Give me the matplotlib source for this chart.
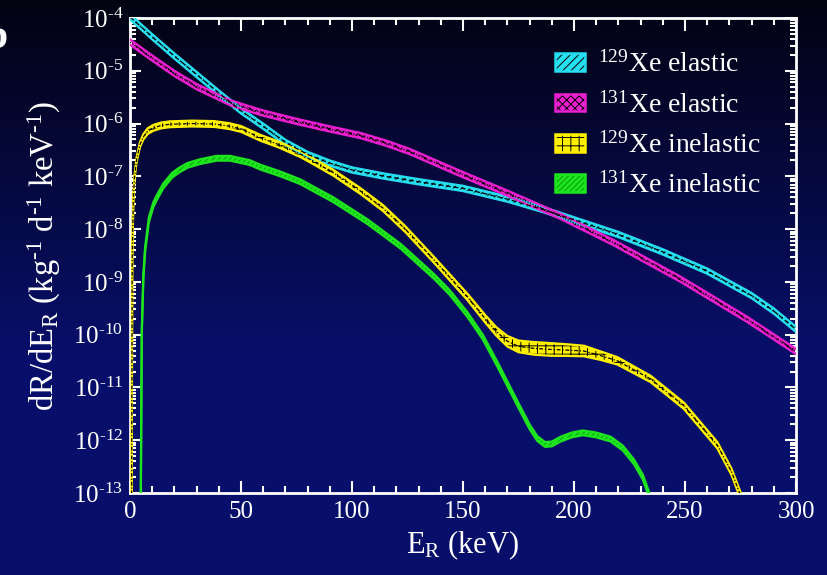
import numpy as np
import matplotlib
matplotlib.use("Agg")
import matplotlib.pyplot as plt
from matplotlib.patches import Patch
from matplotlib.legend_handler import HandlerTuple
from matplotlib.ticker import LogLocator, FuncFormatter, MultipleLocator

plt.rcParams["font.family"] = ["Liberation Serif", "DejaVu Serif"]
plt.rcParams["mathtext.fontset"] = "custom"
plt.rcParams["mathtext.rm"] = "Liberation Serif"
plt.rcParams["mathtext.it"] = "Liberation Serif:italic"
plt.rcParams["hatch.linewidth"] = 0.7

# --- data (E in keV, rate in kg^-1 d^-1 keV^-1) ---
e_129el = [0, 10, 20, 30, 40, 50, 60, 70, 80, 90, 100, 115, 130, 150, 170,
           186, 200, 220, 240, 260, 280, 290, 300]
r_129el = [1.05e-4, 4.4e-5, 1.9e-5, 8.5e-6, 3.8e-6, 1.74e-6, 8.9e-7, 4.4e-7,
           2.6e-7, 1.78e-7, 1.32e-7, 1.0e-7, 7.9e-8, 5.9e-8, 3.7e-8,
           2.35e-8, 1.5e-8, 7.9e-9, 3.7e-9, 1.6e-9, 5.5e-10, 2.8e-10, 1.26e-10]

e_131el = [0, 10, 20, 30, 45, 52, 60, 75, 90, 104, 115, 126, 149, 170, 194,
           218, 248, 278, 300]
r_131el = [3.5e-5, 1.74e-5, 8.9e-6, 5.0e-6, 2.5e-6, 2.0e-6, 1.58e-6, 1.1e-6,
           7.9e-7, 5.9e-7, 4.3e-7, 2.95e-7, 1.12e-7, 4.8e-8, 1.74e-8,
           5.5e-9, 1.12e-9, 1.95e-10, 4.8e-11]

e_129in = [0.7, 1.0, 1.5, 2.0, 3, 4.5, 6, 8, 10.5, 14, 18, 28, 38, 45, 50,
           58.6, 67, 77, 81, 91.6, 104, 114, 124, 137, 152, 160, 165, 170,
           175, 182, 189.4, 197, 204.5, 212, 219.5, 234.5, 249.5, 264.6, 271,
           276]
r_129in = [3e-14, 3e-9, 3.6e-8, 9.5e-8, 2.1e-7, 4.0e-7, 5.6e-7, 7.2e-7,
           8.3e-7, 9.2e-7, 9.7e-7, 1.0e-6, 9.8e-7, 8.9e-7, 7.9e-7,
           5.4e-7, 4.0e-7, 2.6e-7, 2.1e-7, 1.17e-7, 5.2e-8, 2.5e-8, 1.0e-8,
           2.6e-9, 5.2e-10, 2.0e-10, 1.15e-10, 7.5e-11, 6.0e-11, 5.5e-11,
           5.25e-11, 5.1e-11, 4.9e-11, 4.0e-11, 3.2e-11, 1.45e-11, 4.5e-12,
           8e-13, 2.5e-13, 7e-14]
# half width of the yellow band, in decades
w_129in = [0.0, 0.0, 0.02, 0.03, 0.04, 0.045, 0.05, 0.055, 0.055, 0.055,
           0.055, 0.055, 0.055, 0.055, 0.055, 0.055, 0.055, 0.055, 0.055,
           0.055, 0.055, 0.055, 0.055, 0.055, 0.06, 0.07, 0.08, 0.1, 0.11,
           0.12, 0.12, 0.11, 0.1, 0.08, 0.07, 0.06, 0.06, 0.06, 0.06, 0.06]

e_131in = [4.8, 5.3, 6.0, 6.8, 8.5, 10.5, 12, 15, 19, 22, 26, 31.6, 39, 45,
           54, 58.6, 68, 76.7, 91.6, 107, 122, 137, 144, 152, 159, 166, 174.5,
           180, 183.5, 187, 190, 194, 199, 204, 210, 216.5, 222, 227, 231,
           235.5]
r_131in = [3e-14, 1.1e-10, 1.2e-9, 4.1e-9, 1.5e-8, 2.9e-8, 3.9e-8, 6.6e-8,
           1.05e-7, 1.3e-7, 1.62e-7, 1.9e-7, 2.2e-7, 2.2e-7, 1.82e-7, 1.5e-7,
           1.1e-7, 7.9e-8, 3.6e-8, 1.38e-8, 4.7e-9, 1.26e-9, 6.3e-10,
           2.4e-10, 8.9e-11, 2.5e-11, 5.0e-12, 1.8e-12, 1.07e-12, 8.3e-13,
           8.5e-13, 1.05e-12, 1.26e-12, 1.38e-12, 1.26e-12, 1.05e-12,
           7.1e-13, 3.9e-13, 2.0e-13, 6e-14]

labels = [r"$^{129}$Xe elastic", r"$^{131}$Xe elastic",
          r"$^{129}$Xe inelastic", r"$^{131}$Xe inelastic"]
colors = ["#25dff0", "#ec1fd0", "#fff000", "#1ee61e"]
hatches = ["////", "xxxx", "++", "//////"]
hatch_colors = ["black", "black", "black", "#0b9a0b"]
center_styles = [(0, (4, 2)), (0, (1, 1.2)), (0, (3, 1.5, 1, 1.5)), None]

fig = plt.figure(figsize=(8.27, 5.75), dpi=100)
fig.patch.set_facecolor("#04062a")

# dark-blue backdrop, darker at the top
bg = fig.add_axes([0, 0, 1, 1], zorder=-10)
grad = np.linspace(0, 1, 256)[:, None]
top = np.array([0.01, 0.01, 0.07])
bot = np.array([0.03, 0.06, 0.42])
img = top + (bot - top) * np.clip(grad * 1.6, 0, 1)[:, :, None]
bg.imshow(img, aspect="auto", extent=[0, 1, 0, 1], origin="upper")
bg.set_axis_off()

ax = fig.add_axes([130 / 827, 82 / 575, 666 / 827, 475 / 575])
ax.set_facecolor("none")

series = [(e_129el, r_129el, [0.05] * len(e_129el)),
          (e_131el, r_131el, [0.05] * len(e_131el)),
          (e_129in, r_129in, w_129in),
          (e_131in, r_131in, [0.045] * len(e_131in))]

handles = []
for (e, r, w), col, hat, hcol, ls in zip(series, colors, hatches,
                                         hatch_colors, center_styles):
    e = np.asarray(e, float)
    lr = np.log10(r)
    w = np.asarray(w, float)
    lo, hi = 10 ** (lr - w), 10 ** (lr + w)
    ax.fill_between(e, lo, hi, facecolor=col, edgecolor=hcol, hatch=hat,
                    linewidth=0, zorder=2)
    ax.plot(e, lo, color=col, lw=1.6, zorder=3, solid_joinstyle="round")
    ax.plot(e, hi, color=col, lw=1.6, zorder=3, solid_joinstyle="round")
    if ls is not None:
        ax.plot(e, r, color="black", lw=0.9, ls=ls, zorder=4)
    handles.append((Patch(facecolor=col, edgecolor=hcol, hatch=hat, lw=0),
                    Patch(facecolor="none", edgecolor=col, lw=1.8)))

ax.set_yscale("log")
ax.set_xlim(0, 300)
ax.set_ylim(1e-13, 1e-4)

ax.xaxis.set_major_locator(MultipleLocator(50))
ax.xaxis.set_minor_locator(MultipleLocator(10))
ax.yaxis.set_major_locator(LogLocator(base=10, numticks=20))
ax.yaxis.set_minor_locator(LogLocator(base=10, subs=np.arange(2, 10), numticks=200))
ax.yaxis.set_major_formatter(FuncFormatter(
    lambda v, pos: r"$10^{\text{%d}}$" % int(round(np.log10(v)))))

ax.tick_params(which="both", direction="in", top=True, right=True,
               colors="white", width=1.5, labelsize=18)
ax.tick_params(axis="x", which="major", length=9, pad=6)
ax.tick_params(axis="x", which="minor", length=5)
ax.tick_params(axis="y", which="major", length=8, pad=5)
ax.tick_params(axis="y", which="minor", length=4.5)
for sp in ax.spines.values():
    sp.set_color("white")
    sp.set_linewidth(2)

ax.set_xlabel(r"E$_\mathregular{R}$ (keV)", color="white", fontsize=22, labelpad=4)
ax.set_ylabel(r"dR/dE$_\mathregular{R}$ (kg$^{\text{-1}}$ d$^{\text{-1}}$ keV$^{\text{-1}}$)",
              color="white", fontsize=23.5)
ax.yaxis.set_label_coords(-0.10, 0.5)

leg = ax.legend(handles, labels, handler_map={tuple: HandlerTuple(ndivide=1)},
                loc="upper left", bbox_to_anchor=(0.638, 0.93), frameon=False,
                fontsize=20, handlelength=1.1, handleheight=0.6,
                handletextpad=0.45, labelspacing=0.5, borderpad=0,
                borderaxespad=0)
for t in leg.get_texts():
    t.set_color("white")

fig.text(8 / 827, 1 - 38 / 575, "b", color="white", fontsize=30,
         fontweight="bold", ha="right", va="center")

fig.savefig("out.png", dpi=100, facecolor=fig.get_facecolor())
